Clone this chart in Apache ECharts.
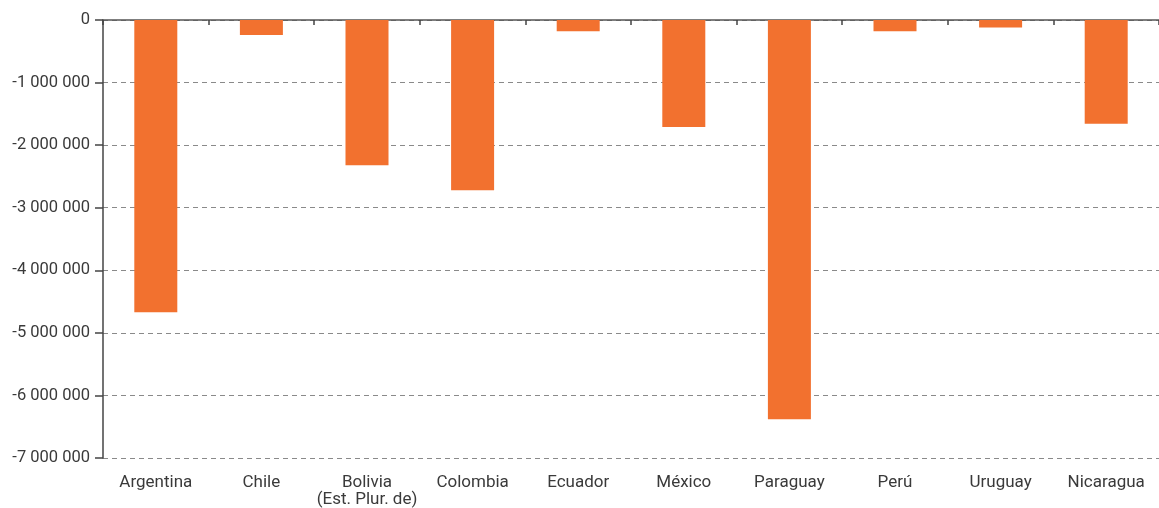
<!DOCTYPE html>
<html>
<head>
<meta charset="utf-8">
<script src="https://cdn.jsdelivr.net/npm/echarts@6/dist/echarts.min.js"></script>
<style>
  html, body { margin: 0; padding: 0; background: #ffffff; }
  #chart { width: 1159px; height: 508px; }
</style>
</head>
<body>
<div id="chart"></div>
<script>
// Countries shown along the category axis
const countries = ['Argentina', 'Chile', 'Bolivia\n(Est. Plur. de)', 'Colombia', 'Ecuador',
                   'México', 'Paraguay', 'Perú', 'Uruguay', 'Nicaragua'];
// Values per country
const values = [-4670000, -240000, -2320000, -2720000, -180000,
                -1710000, -6380000, -180000, -120000, -1660000];
// Value axis range and step
const yMin = -7000000;
const yMax = 0;
const yStep = 1000000;

function fmt(v) {
  const s = String(Math.abs(v)).replace(/\B(?=(\d{3})+(?!\d))/g, ' ');
  return (v < 0 ? '-' : '') + s;
}

const chart = echarts.init(document.getElementById('chart'));
chart.setOption({
  animation: false,
  backgroundColor: '#ffffff',
  grid: { left: 103, right: 0, top: 20, bottom: 50, containLabel: false },
  xAxis: [
    {
      type: 'category',
      data: countries,
      position: 'bottom',
      axisLine: { show: false },
      axisTick: { show: false },
      axisLabel: {
        margin: 16,
        fontFamily: 'Roboto',
        fontSize: 17,
        lineHeight: 17,
        color: '#3a3a3a',
        interval: 0
      }
    },
    {
      type: 'category',
      data: countries,
      position: 'top',
      axisLine: { show: true, onZero: false, lineStyle: { color: '#555555', width: 1.5 } },
      axisTick: { show: true, inside: true, length: 5, lineStyle: { color: '#444444', width: 1.5 } },
      axisLabel: { show: false }
    }
  ],
  yAxis: {
    type: 'value',
    min: yMin,
    max: yMax,
    interval: yStep,
    axisLine: { show: true, lineStyle: { color: '#444444', width: 1.5 } },
    axisTick: { show: true, length: 8, lineStyle: { color: '#444444', width: 1.5 } },
    axisLabel: {
      margin: 13,
      fontFamily: 'Roboto',
      fontSize: 16.5,
      color: '#3a3a3a',
      formatter: fmt
    },
    splitLine: {
      show: true,
      lineStyle: { color: '#8a8a8a', width: 1, type: [5, 4] }
    }
  },
  series: [{
    type: 'bar',
    xAxisIndex: 0,
    data: values,
    barWidth: 43,
    itemStyle: { color: '#F2712F' }
  }]
});
</script>
</body>
</html>
